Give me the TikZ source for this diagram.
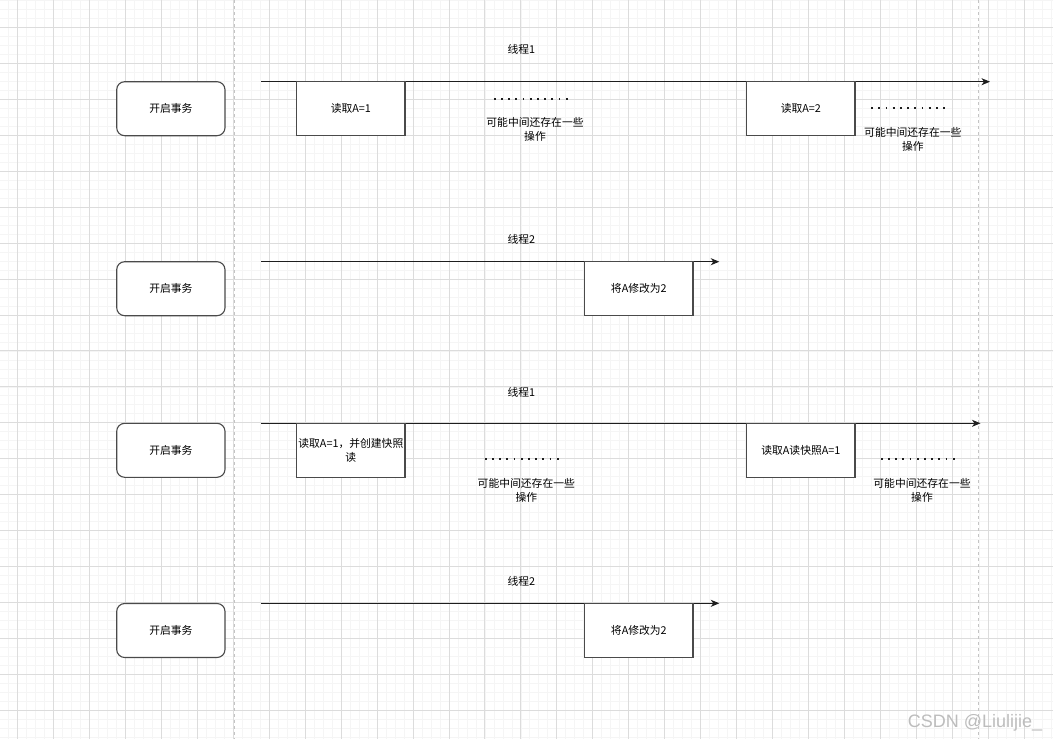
\documentclass[tikz,border=0pt]{standalone}
\usepackage{fontspec}
\setmainfont{Noto Sans CJK SC}
\newfontfamily\wmfont{Liberation Sans}
\usetikzlibrary{arrows.meta}
\definecolor{gridmajor}{HTML}{DCDCDC}
\definecolor{gridminor}{HTML}{F5F5F5}
\definecolor{linec}{HTML}{1E1E1E}
\definecolor{boxc}{HTML}{4A4A4A}
\definecolor{guidec}{HTML}{C4C4C4}
\definecolor{wmc}{HTML}{BDBDBD}
\begin{document}
\begin{tikzpicture}[x=1pt,y=-1pt,
  every node/.style={font=\fontsize{10.8}{14}\selectfont, inner sep=0pt},
  startbox/.style={draw=boxc, line width=1.1pt, rounded corners=8pt, minimum width=108.3pt, minimum height=54pt, fill=white},
  opbox/.style={draw=boxc, line width=1.1pt, minimum width=108.3pt, minimum height=54pt, fill=white, align=center},
  timeline/.style={draw=linec, line width=1pt, -{Stealth[length=8.5pt,width=7pt,inset=2.5pt]}},
  dotrow/.style={draw=linec, line width=1.8pt, dash pattern=on 1.8pt off 5.4pt},
  note/.style={align=center},
  guideline/.style={draw=guidec, line width=0.8pt, dash pattern=on 3pt off 3pt},
  minorline/.style={draw=gridminor, line width=0.6pt},
  majorline/.style={draw=gridmajor, line width=0.8pt}]
\useasboundingbox (0,0) rectangle (1053,739);
\fill[white] (0,0) rectangle (1053,739);
% grid
\foreach \i in {-2,...,117} {\draw[minorline] ({17.5+8.9875*\i},0) -- ({17.5+8.9875*\i},739);}
\foreach \i in {-4,...,80} {\draw[minorline] (0,{27.3+8.9875*\i}) -- (1053,{27.3+8.9875*\i});}
\foreach \i in {0,...,29} {\draw[majorline] ({17.5+35.95*\i},0) -- ({17.5+35.95*\i},739);}
\foreach \i in {-1,...,20} {\draw[majorline] (0,{27.3+35.95*\i}) -- (1053,{27.3+35.95*\i});}
% guides
\coordinate (g1a) at (234,0); \coordinate (g1b) at (234,739);
\coordinate (g2a) at (978.3,0); \coordinate (g2b) at (978.3,739);
\draw[guideline] (g1a) -- (g1b);
\draw[guideline] (g2a) -- (g2b);

% ---------- Row 1 ----------
\node (t1) at (521.3,49) {线程1};
\coordinate (l1a) at (261,81.7); \coordinate (l1b) at (990,81.7);
\draw[timeline] (l1a) -- (l1b);
\node[startbox] (s1) at (170.85,108.7) {开启事务};
\node[opbox] (r1a) at (350.85,108.7) {读取A=1};
\node[opbox] (r1b) at (800.85,108.7) {读取A=2};
\coordinate (d1a) at (493.8,99); \coordinate (d1b) at (567.6,99);
\draw[dotrow] (d1a) -- (d1b);
\node[note] (n1a) at (535,129.7) {可能中间还存在一些\\操作};
\coordinate (d1c) at (871.1,107.7); \coordinate (d1d) at (944.9,107.7);
\draw[dotrow] (d1c) -- (d1d);
\node[note] (n1b) at (912.8,139.7) {可能中间还存在一些\\操作};

% ---------- Row 2 ----------
\node (t2) at (521.3,239) {线程2};
\coordinate (l2a) at (261,261.7); \coordinate (l2b) at (719.3,261.7);
\draw[timeline] (l2a) -- (l2b);
\node[startbox] (s2) at (170.85,288.7) {开启事务};
\node[opbox] (m2) at (638.85,288.7) {将A修改为2};

% ---------- Row 3 ----------
\node (t3) at (521.3,392) {线程1};
\coordinate (l3a) at (261,423.3); \coordinate (l3b) at (980.5,423.3);
\draw[timeline] (l3a) -- (l3b);
\node[startbox] (s3) at (170.85,450.3) {开启事务};
\node[opbox] (r3a) at (350.85,450.3) {读取A=1，并创建快照\\读};
\node[opbox] (r3b) at (800.85,450.3) {读取A读快照A=1};
\coordinate (d3a) at (484.8,459.3); \coordinate (d3b) at (558.6,459.3);
\draw[dotrow] (d3a) -- (d3b);
\node[note] (n3a) at (526.3,490.3) {可能中间还存在一些\\操作};
\coordinate (d3c) at (880.8,459.3); \coordinate (d3d) at (954.6,459.3);
\draw[dotrow] (d3c) -- (d3d);
\node[note] (n3b) at (922,490.3) {可能中间还存在一些\\操作};

% ---------- Row 4 ----------
\node (t4) at (521.3,581) {线程2};
\coordinate (l4a) at (261,603.3); \coordinate (l4b) at (719.3,603.3);
\draw[timeline] (l4a) -- (l4b);
\node[startbox] (s4) at (170.85,630.5) {开启事务};
\node[opbox] (m4) at (638.85,630.5) {将A修改为2};

% watermark
\node[font=\wmfont\fontsize{18}{20}\selectfont, text=wmc] (wm) at (975,723) {CSDN @Liulijie\_};
\end{tikzpicture}
\end{document}
